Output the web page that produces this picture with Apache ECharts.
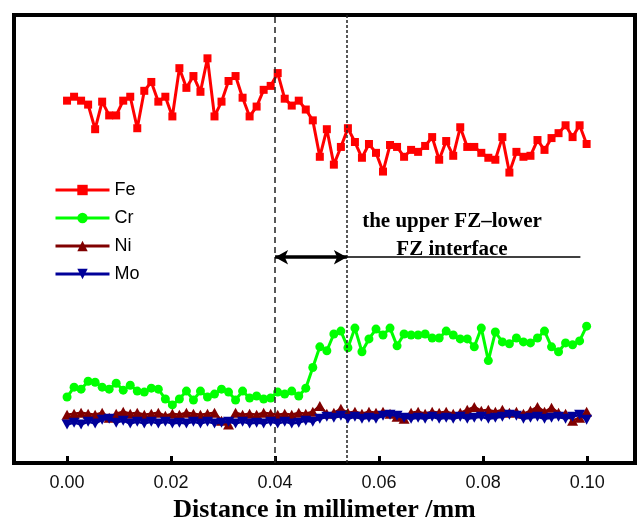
<!DOCTYPE html>
<html>
<head>
<meta charset="utf-8">
<script src="https://cdn.jsdelivr.net/npm/echarts@6/dist/echarts.min.js"></script>
<style>
  html, body { margin: 0; padding: 0; background: #fff; }
  #chart { width: 641px; height: 528px; }
</style>
</head>
<body>
<div id="chart"></div>
<script>
// Sampling positions along the line scan (mm)
const distance = [
  0, 0.00135, 0.0027, 0.00405, 0.0054, 0.00675, 0.0081, 0.00945, 0.0108, 0.01215,
  0.0135, 0.01485, 0.0162, 0.01755, 0.0189, 0.02025, 0.0216, 0.02295, 0.0243, 0.02565,
  0.027, 0.02835, 0.0297, 0.03105, 0.0324, 0.03375, 0.0351, 0.03645, 0.0378, 0.03915,
  0.0405, 0.04185, 0.0432, 0.04455, 0.0459, 0.04725, 0.0486, 0.04995, 0.0513, 0.05265,
  0.054, 0.05535, 0.0567, 0.05805, 0.0594, 0.06075, 0.0621, 0.06345, 0.0648, 0.06615,
  0.0675, 0.06885, 0.0702, 0.07155, 0.0729, 0.07425, 0.0756, 0.07695, 0.0783, 0.07965,
  0.081, 0.08235, 0.0837, 0.08505, 0.0864, 0.08775, 0.0891, 0.09045, 0.0918, 0.09315,
  0.0945, 0.09585, 0.0972, 0.09855, 0.0999
];

// Line-scan intensities (arbitrary units)
const fe = [
  368, 372, 368, 364, 339, 367, 353, 353, 368, 372,
  340, 378, 387, 367, 372, 352, 401, 381, 393, 377,
  411, 352, 367, 388, 393, 371, 352, 362, 379, 383,
  396, 370, 363, 368, 359, 348, 311, 339, 303, 321,
  340, 326, 310, 324, 315, 296, 323, 321, 311, 318,
  316, 322, 331, 308, 327, 312, 341, 321, 321, 315,
  310, 308, 331, 295, 316, 311, 312, 328, 318, 330,
  335, 343, 331, 343, 324
];
const cr = [
  67, 77, 75, 83, 82, 77, 75, 81, 74, 79,
  73, 72, 76, 75, 65, 59, 65, 73, 64, 73,
  67, 70, 75, 72, 64, 73, 66, 68, 65, 66,
  72, 70, 73, 68, 76, 97, 118, 114, 131, 134,
  117, 137, 113, 126, 136, 130, 137, 119, 131, 130,
  130, 131, 127, 127, 134, 130, 126, 126, 118, 137,
  104, 133, 123, 121, 127, 123, 122, 127, 134, 118,
  113, 122, 120, 124, 139
];
const ni = [
  49, 50, 51, 50, 49, 51, 46, 50, 52, 50,
  51, 49, 50, 51, 48, 50, 49, 51, 50, 49,
  50, 51, 43, 39, 51, 49, 50, 49, 51, 50,
  49, 50, 49, 51, 50, 52, 58, 50, 51, 55,
  51, 52, 50, 52, 51, 52, 50, 47, 45, 51,
  52, 50, 52, 51, 52, 50, 51, 54, 57, 53,
  54, 52, 54, 51, 52, 50, 53, 57, 52, 56,
  51, 50, 43, 46, 52
];
const mo = [
  39, 41, 39, 42, 40, 44, 45, 41, 43, 40,
  42, 40, 42, 40, 42, 40, 41, 40, 42, 40,
  42, 40, 41, 42, 40, 42, 40, 41, 40, 42,
  40, 42, 40, 41, 43, 42, 45, 47, 46, 48,
  45, 47, 45, 46, 45, 48, 49, 48, 46, 45,
  46, 45, 47, 45, 46, 45, 47, 45, 46, 47,
  45, 46, 47, 49, 48, 45, 46, 47, 45, 46,
  47, 45, 47, 49, 44
];

const xTicks = [0, 0.02, 0.04, 0.06, 0.08, 0.10];
const boundaryLeft = 0.04;       // start of transition zone
const boundaryInterface = 0.0538; // upper FZ / lower FZ interface
const arrowLevel = 209;
const lineEnd = 0.0987;

const pairs = (ys) => ys.map((v, i) => [distance[i], v]);

const chart = echarts.init(document.getElementById('chart'), null, { renderer: 'canvas' });

const invTriangle = 'path://M0,0 L10,0 L5,9 Z';
const serifBold = { fontFamily: 'Liberation Serif, Times New Roman, serif', fontWeight: 'bold' };

chart.setOption({
  animation: false,
  backgroundColor: '#ffffff',
  grid: {
    left: 14, right: 6, top: 15, bottom: 58,
    show: true, borderColor: '#000', borderWidth: 4, backgroundColor: 'transparent'
  },
  legend: {
    orient: 'vertical',
    left: 49, top: 175,
    itemWidth: 54, itemHeight: 13, itemGap: 8,
    lineStyle: { width: 3 },
    textStyle: { fontFamily: 'Liberation Sans, Arial, sans-serif', fontSize: 18, color: '#000', lineHeight: 20 },
    data: ['Fe', 'Cr', 'Ni', 'Mo']
  },
  xAxis: {
    type: 'value',
    min: -0.0102, max: 0.1092,
    name: 'Distance in millimeter /mm',
    nameLocation: 'middle',
    nameGap: 34,
    nameTextStyle: Object.assign({ fontSize: 26, color: '#000' }, serifBold),
    axisLine: { show: false },
    splitLine: { show: false },
    axisTick: { show: true, inside: true, length: 7, lineStyle: { width: 3, color: '#000' }, customValues: xTicks },
    axisLabel: {
      margin: 11,
      fontFamily: 'Liberation Sans, Arial, sans-serif', fontSize: 18, color: '#111',
      customValues: xTicks,
      formatter: (v) => v.toFixed(2)
    }
  },
  yAxis: {
    type: 'value', min: 0, max: 455,
    axisLine: { show: false }, axisTick: { show: false }, axisLabel: { show: false }, splitLine: { show: false }
  },
  series: [
    {
      name: 'Fe', type: 'line', data: pairs(fe),
      symbol: 'rect', symbolSize: 8,
      itemStyle: { color: '#ff0000' }, lineStyle: { color: '#ff0000', width: 3 },
      z: 3,
      markLine: {
        silent: true, symbol: ['none', 'none'], animation: false, precision: 5,
        label: { show: false },
        data: [
          { xAxis: boundaryLeft, lineStyle: { color: '#222', width: 1.5, type: [6, 4] } },
          { xAxis: boundaryInterface, lineStyle: { color: '#222', width: 1.5, type: [3, 2] } },
          [
            { coord: [boundaryLeft, arrowLevel], symbol: 'arrow', symbolSize: [11, 13] },
            { coord: [boundaryInterface, arrowLevel], symbol: 'arrow', symbolSize: [11, 13], lineStyle: { color: '#000', width: 3.5, type: 'solid' } }
          ],
          [
            { coord: [boundaryInterface, arrowLevel], symbol: 'none' },
            { coord: [lineEnd, arrowLevel], symbol: 'none', lineStyle: { color: '#000', width: 1.5, type: 'solid' } }
          ]
        ]
      }
    },
    {
      name: 'Cr', type: 'line', data: pairs(cr),
      symbol: 'circle', symbolSize: 9,
      itemStyle: { color: '#00ff00' }, lineStyle: { color: '#00ff00', width: 3 },
      z: 3
    },
    {
      name: 'Ni', type: 'line', data: pairs(ni),
      symbol: 'triangle', symbolSize: [11, 10],
      itemStyle: { color: '#800000' }, lineStyle: { color: '#800000', width: 2.5 },
      z: 4
    },
    {
      name: 'Mo', type: 'line', data: pairs(mo),
      symbol: invTriangle, symbolSize: [11, 10],
      itemStyle: { color: '#000099' }, lineStyle: { color: '#000099', width: 2.5 },
      z: 5
    }
  ],
  graphic: [
    {
      type: 'text', x: 452, y: 222, silent: true,
      style: Object.assign({
        text: 'the upper FZ\u2013lower', fontSize: 21,
        fill: '#000', align: 'center', verticalAlign: 'middle'
      }, serifBold)
    },
    {
      type: 'text', x: 452, y: 250, silent: true,
      style: Object.assign({
        text: 'FZ interface', fontSize: 21,
        fill: '#000', align: 'center', verticalAlign: 'middle'
      }, serifBold)
    }
  ]
});
</script>
</body>
</html>
